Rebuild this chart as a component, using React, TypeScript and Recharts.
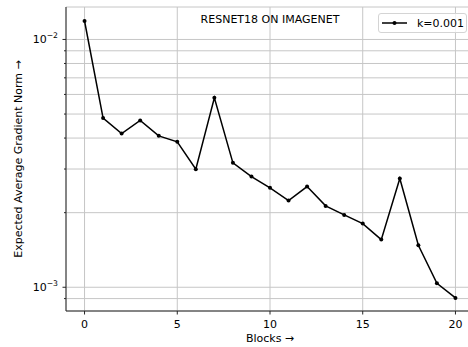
import { LineChart, Line, XAxis, YAxis, CartesianGrid } from 'recharts';

const blocks = [0, 1, 2, 3, 4, 5, 6, 7, 8, 9, 10, 11, 12, 13, 14, 15, 16, 17, 18, 19, 20];
const gradNorm = [
  0.01187, 0.004815, 0.004172, 0.00471, 0.004083, 0.003863, 0.002996, 0.005814, 0.003177, 0.002797,
  0.002518, 0.002238, 0.002548, 0.00213, 0.001959, 0.001807, 0.001557, 0.002746, 0.001478, 0.001038,
  0.000906,
];
const xTicks = [0, 5, 10, 15, 20];
const yTicks = [0.0009, 0.001, 0.002, 0.003, 0.004, 0.005, 0.006, 0.007, 0.008, 0.009, 0.01];
const yMajor: Record<string, string> = { '0.001': '−3', '0.01': '−2' };

const data = blocks.map((b, i) => ({ block: b, norm: gradNorm[i] }));

const FONT = '"DejaVu Sans", sans-serif';
const AXIS = '#262626';

function YTick(props: any) {
  const { x, y, payload } = props;
  const sup = yMajor[String(payload.value)];
  const len = sup ? 3.5 : 2;
  return (
    <g>
      <line x1={x - len} x2={x} y1={y} y2={y} stroke={AXIS} strokeWidth={1} />
      {sup && (
        <text x={x - 8} y={y + 4} textAnchor="end" fontFamily={FONT} fontSize={11} fill="#000">
          <tspan>10</tspan>
          <tspan dy={-5} fontSize={7.7}>{sup}</tspan>
        </text>
      )}
    </g>
  );
}

function XTick(props: any) {
  const { x, y, payload } = props;
  return (
    <g>
      <line x1={x} x2={x} y1={y} y2={y + 3.5} stroke={AXIS} strokeWidth={1} />
      <text x={x} y={y + 17} textAnchor="middle" fontFamily={FONT} fontSize={11} fill="#000">
        {payload.value}
      </text>
    </g>
  );
}

export default function App() {
  return (
    <div style={{ position: 'fixed', left: 0, top: 0, width: 468, height: 347, overflow: 'hidden', background: '#fff' }}>
      <LineChart width={480} height={347} data={data} margin={{ top: 7, right: 6, left: 0, bottom: 0 }}>
        <CartesianGrid stroke="#c6c6c6" strokeWidth={1} />
        <XAxis
          dataKey="block"
          type="number"
          domain={[-1, 21]}
          ticks={xTicks}
          height={36}
          tickSize={0}
          tickMargin={0}
          tickLine={false}
          tick={<XTick />}
          axisLine={{ stroke: AXIS, strokeWidth: 1 }}
          label={{
            content: (p: any) => {
              const vb = p.viewBox;
              return (
                <text x={vb.x + vb.width / 2} y={vb.y + 31} textAnchor="middle" fontFamily={FONT} fontSize={11} fill="#000">
                  Blocks →
                </text>
              );
            },
          }}
        />
        <XAxis
          xAxisId="top"
          orientation="top"
          type="number"
          domain={[-1, 21]}
          height={0}
          tick={false}
          tickLine={false}
          axisLine={{ stroke: AXIS, strokeWidth: 1 }}
        />
        <YAxis
          scale="log"
          type="number"
          domain={[0.000802, 0.01352]}
          allowDataOverflow
          ticks={yTicks}
          interval={0}
          width={66}
          tickSize={0}
          tickMargin={0}
          tickLine={false}
          tick={<YTick />}
          axisLine={{ stroke: AXIS, strokeWidth: 1 }}
          label={{
            content: (p: any) => {
              const vb = p.viewBox;
              const cy = vb.y + vb.height / 2;
              return (
                <text
                  x={18}
                  y={cy}
                  transform={`rotate(-90 18 ${cy})`}
                  textAnchor="middle"
                  dominantBaseline="central"
                  fontFamily={FONT}
                  fontSize={11}
                  fill="#000"
                >
                  Expected Average Gradient Norm →
                </text>
              );
            },
          }}
        />
        <Line
          type="linear"
          dataKey="norm"
          stroke="#000"
          strokeWidth={1.5}
          dot={{ r: 2, fill: '#000', stroke: 'none' }}
          activeDot={false}
          isAnimationActive={false}
        />
      </LineChart>
      <div
        style={{
          position: 'absolute',
          left: 170,
          top: 14,
          width: 200,
          textAlign: 'center',
          fontFamily: FONT,
          fontSize: 11,
          lineHeight: '11px',
          color: '#000',
        }}
      >
        RESNET18 ON IMAGENET
      </div>
      <div
        style={{
          position: 'absolute',
          left: 378,
          top: 13,
          width: 89,
          height: 20,
          boxSizing: 'border-box',
          border: '1px solid #d4d4d4',
          borderRadius: 3,
          background: 'rgba(255,255,255,0.8)',
          display: 'flex',
          alignItems: 'center',
          fontFamily: FONT,
          fontSize: 11,
          color: '#000',
        }}
      >
        <svg width={38} height={18} style={{ flex: 'none' }}>
          <line x1={3} x2={28} y1={9} y2={9} stroke="#000" strokeWidth={1.5} />
          <circle cx={15.5} cy={9} r={2} fill="#000" />
        </svg>
        <span>k=0.001</span>
      </div>
    </div>
  );
}
